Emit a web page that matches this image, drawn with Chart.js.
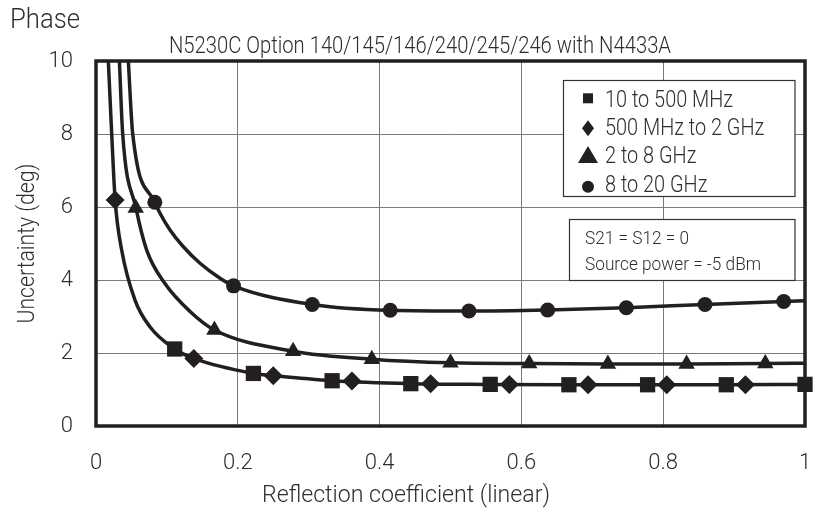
<!DOCTYPE html>
<html>
<head>
<meta charset="utf-8">
<script src="https://cdn.jsdelivr.net/npm/chart.js@4/dist/chart.umd.min.js"></script>
<style>
  html, body { margin: 0; padding: 0; background: #fff; overflow: hidden; }
  canvas { display: block; }
</style>
</head>
<body>
<canvas id="phase-chart" width="814" height="511"></canvas>
<script>
'use strict';

// ---- data ----
var seriesLabels = ['10 to 500 MHz', '500 MHz to 2 GHz', '2 to 8 GHz', '8 to 20 GHz'];
var xTicks = [0, 0.2, 0.4, 0.6, 0.8, 1];
var yTicks = [0, 2, 4, 6, 8, 10];

// marker positions
var squareX  = [0.111, 0.222, 0.333, 0.444, 0.556, 0.667, 0.778, 0.889, 1.0];
var squareY  = [2.11, 1.44, 1.24, 1.16, 1.14, 1.13, 1.13, 1.13, 1.14];
var diamondX = [0.027, 0.138, 0.250, 0.361, 0.472, 0.583, 0.694, 0.805, 0.916];
var diamondY = [6.19, 1.85, 1.38, 1.23, 1.16, 1.14, 1.13, 1.13, 1.13];
var triangleX = [0.056, 0.167, 0.278, 0.389, 0.500, 0.611, 0.722, 0.833, 0.944];
var triangleY = [5.97, 2.63, 2.05, 1.83, 1.73, 1.71, 1.70, 1.70, 1.71];
var circleX  = [0.083, 0.194, 0.305, 0.415, 0.526, 0.637, 0.748, 0.859, 0.970];
var circleY  = [6.13, 3.84, 3.33, 3.17, 3.15, 3.18, 3.24, 3.33, 3.41];

// traced curves (the smooth lines through the markers)
var lowCurveX = [0.0174, 0.0221, 0.027, 0.0362, 0.055, 0.076, 0.111, 0.138, 0.222, 0.25, 0.333, 0.444, 0.556, 0.667, 0.778, 0.889, 1.0];
var lowCurveY = [10, 8.02, 6.19, 4.82, 3.45, 2.72, 2.11, 1.85, 1.44, 1.38, 1.24, 1.16, 1.14, 1.13, 1.13, 1.13, 1.14];
var midCurveX = [0.033, 0.0376, 0.0564, 0.0715, 0.097, 0.133, 0.167, 0.278, 0.389, 0.5, 0.611, 0.722, 0.833, 0.944, 1.0];
var midCurveY = [10, 8.02, 5.97, 4.82, 3.91, 3.13, 2.63, 2.05, 1.83, 1.73, 1.71, 1.70, 1.70, 1.71, 1.72];
var topCurveX = [0.0456, 0.0517, 0.083, 0.0903, 0.1044, 0.1232, 0.1467, 0.1749, 0.194, 0.305, 0.415, 0.526, 0.637, 0.748, 0.859, 0.970, 1.0];
var topCurveY = [10, 8.02, 6.13, 5.83, 5.37, 4.91, 4.46, 4.05, 3.84, 3.33, 3.17, 3.15, 3.18, 3.24, 3.33, 3.41, 3.43];

var noteLines = ['S21 = S12 = 0', 'Source power = -5 dBm'];

// ---- look ----
var FONT = "Roboto, 'DejaVu Sans', sans-serif";
var INK = '#231f20';
var TEXT = '#2e2e2e';

function pts(xs, ys) {
    return xs.map(function (x, i) { return { x: x, y: ys[i] }; });
}

function markerSet(label, xs, ys, style, radius) {
    return {
        label: label,
        data: pts(xs, ys),
        showLine: false,
        pointStyle: style,
        pointRadius: radius,
        pointHoverRadius: radius,
        pointBackgroundColor: INK,
        pointBorderColor: INK,
        pointBorderWidth: 0,
        clip: false
    };
}

function curveSet(xs, ys) {
    return {
        label: '',
        data: pts(xs, ys),
        borderColor: INK,
        borderWidth: 3.5,
        pointRadius: 0,
        fill: false,
        cubicInterpolationMode: 'monotone'
    };
}

// the source uses a narrow face: squeeze text to the width it has there
function squeezeText(ctx, text, x, y, font, width, align) {
    ctx.font = font;
    var w = ctx.measureText(text).width;
    ctx.save();
    ctx.translate(x, y);
    ctx.scale(width / w, 1);
    ctx.textAlign = align;
    ctx.fillText(text, 0, 0);
    ctx.restore();
}

// legend marker shapes drawn by hand
function drawMark(ctx, style, x, y) {
    ctx.fillStyle = INK;
    ctx.beginPath();
    if (style === 'rect') {
        ctx.rect(x - 5, y - 5, 10, 10);
    } else if (style === 'rectRot') {
        ctx.moveTo(x, y - 8); ctx.lineTo(x + 6, y); ctx.lineTo(x, y + 8); ctx.lineTo(x - 6, y);
    } else if (style === 'triangle') {
        ctx.moveTo(x, y - 9); ctx.lineTo(x + 10, y + 8); ctx.lineTo(x - 10, y + 8);
    } else {
        ctx.arc(x, y, 6, 0, Math.PI * 2);
    }
    ctx.closePath();
    ctx.fill();
}

var decor = {
    id: 'decor',
    afterDraw: function (chart) {
        var ctx = chart.ctx;
        var a = chart.chartArea;
        ctx.save();

        // heavy frame round the plot
        ctx.lineWidth = 3.5;
        ctx.strokeStyle = INK;
        ctx.strokeRect(a.left, a.top, a.right - a.left, a.bottom - a.top);

        // headings
        ctx.fillStyle = TEXT;
        ctx.textBaseline = 'alphabetic';
        squeezeText(ctx, 'Phase', 10, 28, '300 28px ' + FONT, 70, 'left');
        squeezeText(ctx, 'N5230C Option 140/145/146/240/245/246 with N4433A', 420, 53,
            '300 23px ' + FONT, 502, 'center');
        squeezeText(ctx, 'Reflection coefficient (linear)', 406, 502, '300 24px ' + FONT, 288, 'center');

        // y title, rotated
        ctx.save();
        ctx.translate(28, (a.top + a.bottom) / 2);
        ctx.rotate(-Math.PI / 2);
        ctx.textBaseline = 'middle';
        squeezeText(ctx, 'Uncertainty (deg)', 0, 0, '300 24px ' + FONT, 160, 'center');
        ctx.restore();

        // legend box
        ctx.fillStyle = '#fff';
        ctx.fillRect(563.5, 80.5, 231.5, 116);
        ctx.lineWidth = 1.2;
        ctx.strokeStyle = '#333';
        ctx.strokeRect(563.5, 80.5, 231.5, 116);
        ctx.font = '300 23px ' + FONT;
        var sx = 128 / ctx.measureText(seriesLabels[0]).width;
        var markerDy = [8.4, 6.7, 8.3, 5];
        chart.data.datasets.forEach(function (ds, i) {
            if (!ds.pointStyle) return;
            var base = 106.7 + i * 28.35;
            drawMark(ctx, ds.pointStyle, 588, base - markerDy[i]);
            ctx.fillStyle = TEXT;
            ctx.font = '300 23px ' + FONT;
            var w = ctx.measureText(ds.label).width;
            squeezeText(ctx, ds.label, 605, base, '300 23px ' + FONT, w * sx, 'left');
        });

        // conditions box
        ctx.fillStyle = '#fff';
        ctx.fillRect(569.5, 219.5, 225.5, 61);
        ctx.strokeRect(569.5, 219.5, 225.5, 61);
        ctx.fillStyle = TEXT;
        ctx.font = '300 19px ' + FONT;
        var nx = 176 / ctx.measureText(noteLines[1]).width;
        noteLines.forEach(function (t, i) {
            ctx.font = '300 19px ' + FONT;
            var w = ctx.measureText(t).width;
            squeezeText(ctx, t, 585, 243.5 + i * 26.5, '300 19px ' + FONT, w * nx, 'left');
        });

        ctx.restore();
    }
};

new Chart(document.getElementById('phase-chart'), {
    type: 'line',
    data: {
        datasets: [
            markerSet(seriesLabels[0], squareX, squareY, 'rect', 10.8),
            markerSet(seriesLabels[1], diamondX, diamondY, 'rectRot', 9.5),
            markerSet(seriesLabels[2], triangleX, triangleY, 'triangle', 9.5),
            markerSet(seriesLabels[3], circleX, circleY, 'circle', 7.5),
            curveSet(lowCurveX, lowCurveY),
            curveSet(midCurveX, midCurveY),
            curveSet(topCurveX, topCurveY)
        ]
    },
    options: {
        responsive: false,
        animation: false,
        events: [],
        layout: { autoPadding: false, padding: { top: 61, right: 9, left: 0, bottom: 0 } },
        plugins: {
            legend: { display: false },
            tooltip: { enabled: false },
            title: { display: false }
        },
        scales: {
            x: {
                type: 'linear',
                min: 0,
                max: 1,
                afterBuildTicks: function (scale) {
                    scale.ticks = xTicks.map(function (v) { return { value: v }; });
                },
                afterFit: function (scale) {
                    scale.height = 85;
                    scale.paddingLeft = 0;
                    scale.paddingRight = 0;
                },
                ticks: {
                    color: TEXT,
                    font: { family: FONT, size: 22, weight: '300' },
                    padding: 24,
                    maxRotation: 0,
                    callback: function (v) { return String(v); }
                },
                grid: { color: '#7a7a7a', lineWidth: 1, drawTicks: false },
                border: { display: false }
            },
            y: {
                type: 'linear',
                min: 0,
                max: 10,
                afterBuildTicks: function (scale) {
                    scale.ticks = yTicks.map(function (v) { return { value: v }; });
                },
                afterFit: function (scale) {
                    scale.width = 96;
                    scale.paddingTop = 0;
                    scale.paddingBottom = 0;
                },
                ticks: {
                    color: TEXT,
                    font: { family: FONT, size: 22, weight: '300' },
                    padding: 23,
                    callback: function (v) { return String(v); }
                },
                grid: { color: '#7a7a7a', lineWidth: 1, drawTicks: false },
                border: { display: false }
            }
        }
    },
    plugins: [decor]
});
</script>
</body>
</html>
